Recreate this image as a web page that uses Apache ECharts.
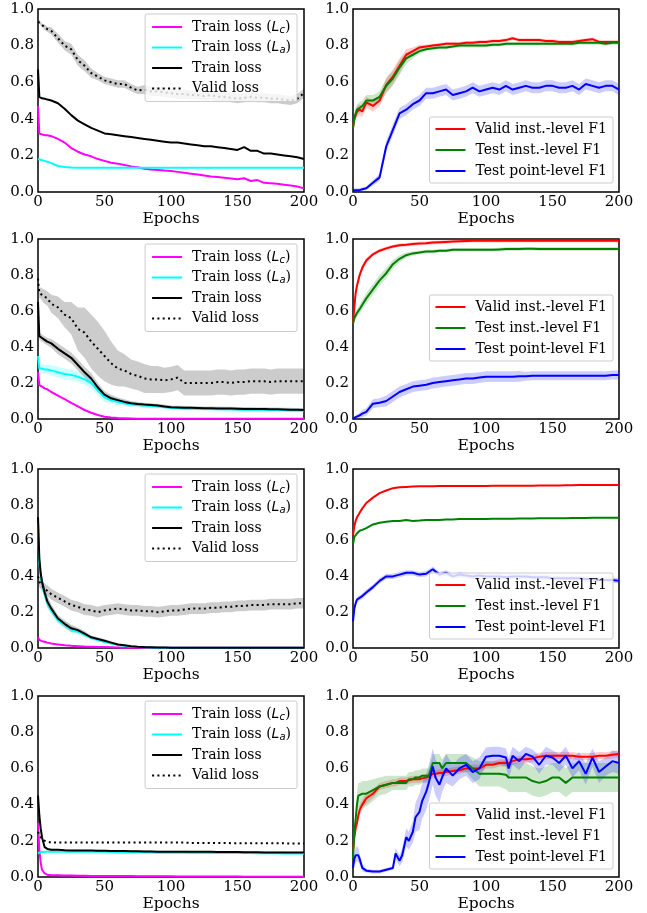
<!DOCTYPE html>
<html><head><meta charset="utf-8">
<script src="https://cdn.jsdelivr.net/npm/echarts@6/dist/echarts.min.js"></script>
<style>html,body{margin:0;padding:0;background:#fff}#c{width:647px;height:913px}</style>
</head><body><div id="c"></div>
<script>
// ---------- epochs (x values) ----------
const epochs = [0,1,2,3,5,7,10,15,20,25, 30,35,40,45,50,55,60,65,70,75, 80,85,90,95,100,105,110,115,120,125, 130,135,140,145,150,155,160,165,170,175, 180,185,190,195,200];
const epochsP8 = [0,1,2,3,4,5,7,10,15,20, 25,30,32,35,37,40,42,45,47,50, 52,55,57,60,62,65,67,70,75,80, 85,90,95,100,105,110,115,117,120,125, 130,135,140,145,150,155,160,165,170,175, 180,185,190,195,200];
const xTicks = [0,50,100,150,200];
const yTicks = [0,0.2,0.4,0.6,0.8,1.0];

// ---------- panel 1 (row 1, loss) ----------
const p1Lc = [0.47,0.32,0.32,0.315,0.31,0.31,0.305,0.29,0.27,0.24, 0.22,0.205,0.195,0.18,0.17,0.16,0.155,0.148,0.14,0.135, 0.127,0.123,0.12,0.117,0.115,0.11,0.105,0.1,0.095,0.09, 0.085,0.082,0.078,0.074,0.07,0.075,0.06,0.065,0.05,0.048, 0.045,0.04,0.035,0.03,0.02];
const p1La = [0.18,0.178,0.176,0.174,0.17,0.165,0.158,0.142,0.137,0.134, 0.133,0.133,0.133,0.133,0.133,0.133,0.133,0.133,0.133,0.133, 0.133,0.133,0.133,0.133,0.133,0.133,0.133,0.133,0.133,0.133, 0.133,0.133,0.133,0.133,0.133,0.133,0.133,0.133,0.133,0.133, 0.133,0.133,0.133,0.133,0.133];
const p1Train = [0.67,0.52,0.515,0.512,0.51,0.505,0.5,0.485,0.455,0.42, 0.39,0.37,0.35,0.335,0.32,0.315,0.31,0.305,0.3,0.295, 0.29,0.285,0.28,0.275,0.27,0.27,0.265,0.26,0.255,0.25, 0.25,0.245,0.24,0.235,0.23,0.245,0.225,0.225,0.21,0.21, 0.205,0.2,0.195,0.19,0.18];
const p1Valid = [0.93,0.93,0.92,0.91,0.9,0.89,0.88,0.84,0.8,0.78, 0.72,0.69,0.65,0.63,0.61,0.6,0.59,0.59,0.57,0.555, 0.56,0.55,0.55,0.545,0.54,0.535,0.535,0.53,0.53,0.525, 0.53,0.52,0.52,0.515,0.51,0.515,0.52,0.515,0.515,0.51, 0.51,0.505,0.5,0.51,0.54];
const p1ValidStd = [0.01,0.01,0.01,0.01,0.015,0.015,0.02,0.025,0.025,0.03, 0.03,0.03,0.025,0.02,0.02,0.02,0.02,0.02,0.02,0.02, 0.025,0.025,0.025,0.025,0.025,0.025,0.025,0.025,0.025,0.025, 0.025,0.025,0.025,0.025,0.025,0.025,0.025,0.025,0.025,0.025, 0.025,0.025,0.025,0.025,0.025];

// ---------- panel 2 (row 1, F1) ----------
const p2Valid = [0.35,0.4,0.42,0.44,0.45,0.44,0.49,0.47,0.5,0.585, 0.63,0.69,0.75,0.77,0.79,0.795,0.8,0.805,0.81,0.81, 0.81,0.815,0.815,0.82,0.82,0.825,0.825,0.83,0.84,0.83, 0.83,0.83,0.83,0.825,0.825,0.82,0.82,0.82,0.825,0.83, 0.835,0.82,0.82,0.82,0.82];
const p2ValidStd = [0.02,0.02,0.03,0.03,0.03,0.03,0.03,0.03,0.03,0.04, 0.04,0.04,0.03,0.02,0.015,0.01,0.01,0.01,0.01,0.01, 0.01,0.01,0.01,0.01,0.01,0.01,0.01,0.01,0.01,0.01, 0.01,0.01,0.01,0.01,0.01,0.01,0.01,0.01,0.01,0.01, 0.01,0.01,0.01,0.01,0.01];
const p2Test = [0.35,0.4,0.43,0.45,0.46,0.47,0.5,0.5,0.52,0.58, 0.62,0.68,0.73,0.75,0.77,0.78,0.785,0.79,0.79,0.795, 0.8,0.8,0.8,0.8,0.8,0.805,0.805,0.81,0.81,0.81, 0.81,0.81,0.81,0.81,0.81,0.81,0.81,0.81,0.815,0.815, 0.815,0.815,0.81,0.815,0.815];
const p2TestStd = [0.02,0.02,0.03,0.03,0.03,0.03,0.03,0.03,0.03,0.04, 0.04,0.04,0.03,0.02,0.015,0.01,0.01,0.01,0.01,0.01, 0.01,0.01,0.01,0.01,0.01,0.01,0.01,0.01,0.01,0.01, 0.01,0.01,0.01,0.01,0.01,0.01,0.01,0.01,0.01,0.01, 0.01,0.01,0.01,0.01,0.01];
const p2Point = [0.01,0.01,0.01,0.01,0.01,0.015,0.02,0.05,0.08,0.25, 0.34,0.43,0.45,0.48,0.5,0.54,0.54,0.55,0.56,0.53, 0.54,0.55,0.57,0.55,0.56,0.57,0.56,0.58,0.56,0.57, 0.58,0.57,0.57,0.58,0.58,0.57,0.57,0.58,0.56,0.59, 0.58,0.57,0.58,0.58,0.56];
const p2PointStd = [0.01,0.01,0.01,0.01,0.01,0.01,0.01,0.015,0.02,0.03, 0.03,0.03,0.03,0.03,0.03,0.03,0.03,0.03,0.03,0.03, 0.03,0.03,0.03,0.03,0.03,0.03,0.03,0.03,0.03,0.03, 0.03,0.03,0.03,0.03,0.03,0.03,0.03,0.03,0.03,0.03, 0.03,0.03,0.03,0.03,0.03];

// ---------- panel 3 (row 2, loss) ----------
const p3Lc = [0.26,0.19,0.185,0.18,0.17,0.165,0.15,0.13,0.11,0.09, 0.07,0.05,0.035,0.022,0.013,0.008,0.005,0.004,0.003,0.002, 0.002,0.002,0.002,0.002,0.002,0.002,0.002,0.002,0.002,0.002, 0.001,0.001,0.001,0.001,0.001,0.001,0.001,0.001,0.001,0.001, 0.001,0.001,0.001,0.001,0.001];
const p3La = [0.35,0.28,0.28,0.28,0.275,0.275,0.27,0.26,0.25,0.245, 0.235,0.22,0.2,0.16,0.12,0.105,0.095,0.088,0.082,0.078, 0.075,0.072,0.07,0.066,0.062,0.06,0.059,0.058,0.057,0.056, 0.056,0.055,0.054,0.054,0.053,0.052,0.052,0.051,0.051,0.05, 0.05,0.049,0.048,0.048,0.047];
const p3LaStd = [0.02,0.02,0.02,0.025,0.025,0.025,0.03,0.03,0.03,0.03, 0.03,0.03,0.03,0.03,0.025,0.02,0.02,0.015,0.015,0.012, 0.012,0.01,0.01,0.01,0.01,0.01,0.01,0.01,0.01,0.01, 0.01,0.01,0.01,0.01,0.01,0.01,0.01,0.01,0.01,0.01, 0.01,0.01,0.01,0.01,0.01];
const p3Train = [0.65,0.46,0.455,0.45,0.44,0.43,0.42,0.39,0.365,0.34, 0.3,0.26,0.225,0.175,0.135,0.115,0.105,0.095,0.088,0.083, 0.08,0.078,0.075,0.07,0.065,0.064,0.063,0.062,0.061,0.06, 0.06,0.059,0.058,0.058,0.057,0.056,0.056,0.055,0.055,0.054, 0.054,0.053,0.052,0.051,0.05];
const p3TrainStd = [0.02,0.02,0.02,0.02,0.02,0.02,0.025,0.03,0.03,0.03, 0.03,0.03,0.03,0.025,0.02,0.02,0.015,0.015,0.012,0.012, 0.01,0.01,0.01,0.01,0.01,0.01,0.01,0.01,0.01,0.01, 0.01,0.01,0.01,0.01,0.01,0.01,0.01,0.01,0.01,0.01, 0.01,0.01,0.01,0.01,0.01];
const p3Valid = [0.78,0.7,0.7,0.69,0.68,0.67,0.64,0.62,0.58,0.56, 0.5,0.48,0.43,0.39,0.35,0.31,0.28,0.27,0.25,0.24, 0.225,0.22,0.22,0.215,0.22,0.23,0.2,0.2,0.2,0.2, 0.2,0.205,0.205,0.2,0.205,0.205,0.21,0.21,0.21,0.205, 0.21,0.21,0.21,0.21,0.21];
const p3ValidStd = [0.03,0.03,0.03,0.035,0.04,0.04,0.05,0.06,0.07,0.09, 0.12,0.14,0.15,0.15,0.14,0.12,0.1,0.09,0.08,0.08, 0.08,0.075,0.075,0.07,0.07,0.07,0.07,0.07,0.07,0.07, 0.07,0.07,0.07,0.07,0.07,0.07,0.07,0.07,0.07,0.07, 0.07,0.07,0.07,0.07,0.07];

// ---------- panel 4 (row 2, F1) ----------
const p4Valid = [0.53,0.62,0.7,0.74,0.8,0.84,0.88,0.915,0.935,0.948, 0.958,0.965,0.968,0.972,0.975,0.977,0.98,0.982,0.984,0.986, 0.988,0.989,0.99,0.99,0.99,0.99,0.99,0.99,0.99,0.99, 0.99,0.99,0.99,0.99,0.99,0.99,0.99,0.99,0.99,0.99, 0.99,0.99,0.99,0.99,0.99];
const p4ValidStd = [0.01,0.02,0.02,0.02,0.02,0.02,0.015,0.01,0.01,0.01, 0.01,0.01,0.01,0.01,0.01,0.01,0.01,0.01,0.01,0.01, 0.01,0.01,0.01,0.01,0.01,0.01,0.01,0.01,0.01,0.01, 0.01,0.01,0.01,0.01,0.01,0.01,0.01,0.01,0.01,0.01, 0.01,0.01,0.01,0.01,0.01];
const p4Test = [0.53,0.56,0.575,0.59,0.61,0.635,0.67,0.72,0.77,0.81, 0.86,0.89,0.91,0.92,0.925,0.93,0.93,0.935,0.935,0.94, 0.94,0.94,0.94,0.94,0.94,0.94,0.942,0.944,0.945,0.945, 0.946,0.946,0.945,0.945,0.945,0.945,0.945,0.945,0.945,0.945, 0.945,0.945,0.945,0.945,0.945];
const p4TestStd = [0.01,0.02,0.02,0.02,0.025,0.025,0.03,0.03,0.03,0.03, 0.025,0.02,0.015,0.012,0.01,0.01,0.01,0.01,0.01,0.01, 0.01,0.01,0.01,0.01,0.01,0.01,0.01,0.01,0.01,0.01, 0.01,0.01,0.01,0.01,0.01,0.01,0.01,0.01,0.01,0.01, 0.01,0.01,0.01,0.01,0.01];
const p4Point = [0,0.005,0.01,0.015,0.02,0.03,0.04,0.085,0.09,0.1, 0.125,0.15,0.165,0.18,0.185,0.19,0.2,0.205,0.21,0.215, 0.22,0.225,0.225,0.23,0.235,0.235,0.235,0.235,0.235,0.237, 0.238,0.24,0.24,0.24,0.24,0.24,0.24,0.24,0.24,0.24, 0.24,0.24,0.24,0.245,0.245];
const p4PointStd = [0.01,0.01,0.01,0.01,0.015,0.02,0.02,0.025,0.025,0.03, 0.03,0.03,0.03,0.03,0.03,0.03,0.03,0.03,0.03,0.03, 0.03,0.03,0.03,0.03,0.03,0.03,0.03,0.03,0.03,0.03, 0.025,0.025,0.025,0.025,0.025,0.025,0.025,0.025,0.025,0.025, 0.025,0.025,0.025,0.025,0.025];

// ---------- panel 5 (row 3, loss) ----------
const p5Lc = [0.06,0.045,0.04,0.038,0.035,0.03,0.025,0.02,0.015,0.012, 0.01,0.008,0.007,0.006,0.005,0.004,0.003,0.002,0.002,0.001, 0.001,0.001,0.001,0.001,0.001,0.001,0.001,0.001,0.001,0.001, 0.001,0.001,0.001,0.001,0.001,0.001,0.001,0.001,0.001,0.001, 0.001,0.001,0.001,0.001,0.001];
const p5La = [0.7,0.48,0.4,0.36,0.3,0.25,0.21,0.155,0.13,0.105, 0.09,0.075,0.055,0.045,0.035,0.025,0.018,0.013,0.008,0.005, 0.004,0.003,0.002,0.002,0.002,0.001,0.001,0.001,0.001,0.001, 0.001,0.001,0.001,0.001,0.001,0.001,0.001,0.001,0.001,0.001, 0.001,0.001,0.001,0.001,0.001];
const p5LaStd = [0.04,0.04,0.04,0.035,0.03,0.03,0.025,0.02,0.02,0.02, 0.015,0.015,0.01,0.01,0.01,0.008,0.006,0.005,0.004,0.003, 0.002,0.002,0.002,0.002,0.002,0.002,0.002,0.002,0.002,0.002, 0.002,0.002,0.002,0.002,0.002,0.002,0.002,0.002,0.002,0.002, 0.002,0.002,0.002,0.002,0.002];
const p5Train = [0.73,0.5,0.42,0.37,0.31,0.26,0.22,0.165,0.135,0.11, 0.1,0.08,0.06,0.05,0.04,0.03,0.02,0.015,0.01,0.007, 0.005,0.004,0.003,0.003,0.002,0.002,0.002,0.002,0.002,0.002, 0.002,0.002,0.002,0.002,0.002,0.002,0.002,0.002,0.002,0.002, 0.002,0.002,0.002,0.002,0.002];
const p5Valid = [0.4,0.37,0.36,0.35,0.33,0.32,0.3,0.28,0.26,0.24, 0.23,0.215,0.21,0.2,0.21,0.215,0.22,0.215,0.21,0.21, 0.205,0.205,0.2,0.205,0.21,0.21,0.215,0.22,0.22,0.22, 0.225,0.225,0.23,0.23,0.235,0.235,0.24,0.24,0.24,0.245, 0.245,0.245,0.245,0.25,0.25];
const p5ValidStd = [0.03,0.03,0.03,0.03,0.03,0.03,0.03,0.03,0.03,0.03, 0.03,0.03,0.03,0.03,0.03,0.03,0.03,0.03,0.03,0.03, 0.03,0.03,0.03,0.03,0.03,0.03,0.03,0.03,0.03,0.03, 0.03,0.03,0.03,0.03,0.03,0.03,0.03,0.03,0.03,0.03, 0.03,0.03,0.03,0.03,0.03];

// ---------- panel 6 (row 3, F1) ----------
const p6Valid = [0.63,0.68,0.71,0.73,0.755,0.78,0.81,0.84,0.865,0.88, 0.893,0.898,0.9,0.902,0.903,0.903,0.904,0.905,0.905,0.905, 0.905,0.905,0.905,0.905,0.905,0.906,0.906,0.906,0.906,0.907, 0.907,0.907,0.908,0.908,0.908,0.908,0.909,0.909,0.91,0.91, 0.91,0.91,0.91,0.91,0.91];
const p6Test = [0.58,0.62,0.63,0.64,0.655,0.66,0.67,0.69,0.7,0.705, 0.71,0.71,0.715,0.71,0.712,0.715,0.715,0.715,0.718,0.718, 0.72,0.72,0.72,0.72,0.72,0.722,0.722,0.722,0.722,0.724, 0.724,0.724,0.725,0.725,0.725,0.725,0.725,0.726,0.726,0.726, 0.727,0.727,0.728,0.728,0.728];
const p6Point = [0.15,0.22,0.25,0.27,0.28,0.29,0.31,0.34,0.375,0.4, 0.4,0.41,0.42,0.42,0.41,0.415,0.44,0.41,0.42,0.4, 0.41,0.405,0.4,0.405,0.4,0.4,0.4,0.395,0.4,0.4, 0.4,0.395,0.395,0.395,0.39,0.39,0.39,0.39,0.39,0.385, 0.385,0.38,0.38,0.38,0.375];
const p6PointStd = [0.015,0.015,0.015,0.015,0.015,0.015,0.015,0.015,0.015,0.015, 0.015,0.015,0.015,0.015,0.015,0.015,0.015,0.015,0.015,0.015, 0.015,0.015,0.015,0.015,0.015,0.015,0.015,0.015,0.015,0.015, 0.015,0.015,0.015,0.015,0.015,0.015,0.015,0.015,0.015,0.015, 0.015,0.015,0.015,0.015,0.015];

// ---------- panel 7 (row 4, loss) ----------
const p7Lc = [0.3,0.15,0.08,0.04,0.02,0.013,0.01,0.009,0.008,0.008, 0.007,0.007,0.006,0.006,0.006,0.005,0.005,0.005,0.005,0.004, 0.004,0.004,0.004,0.004,0.004,0.003,0.003,0.003,0.003,0.003, 0.003,0.003,0.003,0.003,0.003,0.002,0.002,0.002,0.002,0.002, 0.002,0.002,0.002,0.002,0.002];
const p7La = [0.13,0.135,0.138,0.14,0.14,0.14,0.14,0.14,0.14,0.14, 0.14,0.14,0.14,0.14,0.14,0.138,0.137,0.136,0.135,0.135, 0.135,0.135,0.134,0.134,0.134,0.134,0.134,0.133,0.133,0.133, 0.133,0.133,0.132,0.132,0.132,0.132,0.132,0.131,0.131,0.131, 0.131,0.13,0.13,0.13,0.13];
const p7Train = [0.45,0.34,0.27,0.22,0.165,0.155,0.15,0.15,0.148,0.147, 0.147,0.146,0.146,0.145,0.145,0.144,0.144,0.143,0.142,0.142, 0.141,0.141,0.14,0.14,0.14,0.14,0.14,0.139,0.139,0.139, 0.139,0.138,0.138,0.138,0.138,0.137,0.137,0.137,0.136,0.136, 0.136,0.136,0.135,0.135,0.135];
const p7Valid = [0.25,0.23,0.22,0.21,0.2,0.195,0.19,0.19,0.19,0.19, 0.19,0.19,0.19,0.19,0.19,0.19,0.19,0.19,0.19,0.19, 0.19,0.19,0.19,0.19,0.19,0.19,0.19,0.188,0.188,0.188, 0.188,0.188,0.188,0.187,0.187,0.187,0.187,0.187,0.186,0.186, 0.186,0.186,0.185,0.185,0.185];
const p7SmallStd = [0.005,0.005,0.005,0.005,0.005,0.005,0.005,0.005,0.005,0.005, 0.005,0.005,0.005,0.005,0.005,0.005,0.005,0.005,0.005,0.005, 0.005,0.005,0.005,0.005,0.005,0.005,0.005,0.005,0.005,0.005, 0.005,0.005,0.005,0.005,0.005,0.005,0.005,0.005,0.005,0.005, 0.005,0.005,0.005,0.005,0.005];

// ---------- panel 8 (row 4, F1), on epochsP8 ----------
const p8Valid = [0.15,0.22,0.27,0.3,0.34,0.37,0.4,0.435,0.46,0.5, 0.51,0.52,0.52,0.53,0.53,0.53,0.535,0.54,0.54,0.54, 0.545,0.55,0.555,0.57,0.57,0.575,0.575,0.58,0.585,0.59, 0.6,0.6,0.6,0.62,0.62,0.63,0.63,0.63,0.64,0.65, 0.65,0.655,0.665,0.67,0.67,0.67,0.67,0.67,0.665,0.665, 0.665,0.67,0.67,0.675,0.68];
const p8ValidStd = [0.02,0.03,0.03,0.03,0.03,0.03,0.03,0.03,0.025,0.02, 0.02,0.02,0.02,0.02,0.02,0.02,0.02,0.02,0.02,0.02, 0.02,0.02,0.02,0.02,0.02,0.02,0.02,0.02,0.02,0.02, 0.02,0.02,0.02,0.02,0.02,0.02,0.02,0.02,0.02,0.02, 0.02,0.02,0.02,0.02,0.02,0.02,0.02,0.02,0.02,0.02, 0.02,0.02,0.02,0.02,0.02];
const p8Test = [0.1,0.25,0.32,0.4,0.45,0.45,0.46,0.46,0.48,0.5, 0.51,0.52,0.52,0.52,0.52,0.52,0.54,0.54,0.55,0.55, 0.56,0.56,0.56,0.63,0.63,0.63,0.6,0.63,0.63,0.63, 0.63,0.6,0.57,0.57,0.57,0.57,0.565,0.55,0.55,0.55, 0.55,0.53,0.52,0.53,0.55,0.55,0.52,0.55,0.55,0.55, 0.55,0.55,0.55,0.55,0.55];
const p8TestStd = [0.02,0.05,0.06,0.07,0.07,0.07,0.07,0.07,0.06,0.05, 0.05,0.04,0.04,0.04,0.04,0.04,0.04,0.04,0.04,0.04, 0.04,0.04,0.04,0.05,0.05,0.05,0.05,0.05,0.05,0.05, 0.05,0.06,0.07,0.07,0.07,0.07,0.08,0.08,0.08,0.08, 0.08,0.08,0.08,0.08,0.08,0.08,0.08,0.08,0.08,0.08, 0.08,0.08,0.08,0.08,0.08];
const p8Point = [0.05,0.1,0.12,0.13,0.12,0.1,0.05,0.035,0.03,0.03, 0.04,0.05,0.13,0.09,0.12,0.22,0.2,0.25,0.33,0.36, 0.42,0.47,0.52,0.61,0.55,0.51,0.55,0.6,0.56,0.6, 0.62,0.58,0.6,0.665,0.67,0.67,0.66,0.6,0.67,0.64, 0.68,0.665,0.62,0.67,0.66,0.63,0.67,0.6,0.64,0.57, 0.66,0.58,0.61,0.64,0.63];
const p8PointStd = [0.03,0.04,0.04,0.04,0.04,0.03,0.02,0.01,0.01,0.01, 0.01,0.01,0.03,0.03,0.04,0.05,0.05,0.06,0.08,0.1, 0.1,0.1,0.1,0.1,0.1,0.1,0.08,0.08,0.06,0.06, 0.06,0.06,0.06,0.05,0.05,0.05,0.05,0.06,0.05,0.05, 0.04,0.04,0.05,0.05,0.04,0.05,0.05,0.05,0.05,0.06, 0.05,0.06,0.05,0.06,0.06];

// ---------- names & colours ----------
const NAMES = {
  lc: 'Train loss (Lc)', la: 'Train loss (La)', train: 'Train loss', valid: 'Valid loss',
  vInst: 'Valid inst.-level F1', tInst: 'Test inst.-level F1', tPoint: 'Test point-level F1'
};
const COLORS = {
  lc: '#ff00ff', la: '#00ffff', train: '#000000', valid: '#000000',
  vInst: '#ff0000', tInst: '#008000', tPoint: '#0000ff'
};

const panels = [
  {ep: epochs, items: [['lc', p1Lc, null], ['la', p1La, null], ['train', p1Train, null], ['valid', p1Valid, p1ValidStd]]},
  {ep: epochs, items: [['vInst', p2Valid, p2ValidStd], ['tInst', p2Test, p2TestStd], ['tPoint', p2Point, p2PointStd]]},
  {ep: epochs, items: [['lc', p3Lc, null], ['la', p3La, p3LaStd], ['train', p3Train, p3TrainStd], ['valid', p3Valid, p3ValidStd]]},
  {ep: epochs, items: [['vInst', p4Valid, p4ValidStd], ['tInst', p4Test, p4TestStd], ['tPoint', p4Point, p4PointStd]]},
  {ep: epochs, items: [['lc', p5Lc, null], ['la', p5La, p5LaStd], ['train', p5Train, p5LaStd], ['valid', p5Valid, p5ValidStd]]},
  {ep: epochs, items: [['vInst', p6Valid, null], ['tInst', p6Test, null], ['tPoint', p6Point, p6PointStd]]},
  {ep: epochs, items: [['lc', p7Lc, p7SmallStd], ['la', p7La, p7SmallStd], ['train', p7Train, p7SmallStd], ['valid', p7Valid, null]]},
  {ep: epochsP8, items: [['vInst', p8Valid, p8ValidStd], ['tInst', p8Test, p8TestStd], ['tPoint', p8Point, p8PointStd]]}
];

// ---------- layout ----------
const SERIF = "'DejaVu Serif', 'Liberation Serif', serif";
const rowTop = [9, 239, 469, 696];
const rowH = [183, 180, 179, 181];
const colLeft = [38, 353];
const plotW = 266;
const leftLegendTop = [14, 244, 474, 701];
const rightLegendTop = [117, 295, 573, 803];

const grids = [], xAxes = [], yAxes = [], legends = [];
const bandSeries = [], lineSeries = [];

function hexToRgba(hex, a) {
  const n = parseInt(hex.slice(1), 16);
  return 'rgba(' + ((n >> 16) & 255) + ',' + ((n >> 8) & 255) + ',' + (n & 255) + ',' + a + ')';
}

const rich = {
  t: {fontFamily: SERIF, fontSize: 14, color: '#000', lineHeight: 16},
  i: {fontFamily: "'DejaVu Sans', sans-serif", fontStyle: 'italic', fontSize: 14, color: '#000', lineHeight: 16},
  s: {fontFamily: "'DejaVu Sans', sans-serif", fontStyle: 'italic', fontSize: 10, color: '#000', lineHeight: 9, verticalAlign: 'bottom'}
};
function legendFormatter(name) {
  if (name === NAMES.lc) return '{t|Train loss (}{i|L}{s|c}{t|)}';
  if (name === NAMES.la) return '{t|Train loss (}{i|L}{s|a}{t|)}';
  return '{t|' + name + '}';
}

function makeBand(g, ep, vals, std, fill) {
  return {
    type: 'custom', xAxisIndex: g, yAxisIndex: g, silent: true, clip: true, z: 1,
    data: [[ep[0], vals[0]]],
    renderItem: function (params, api) {
      const pts = [];
      for (let i = 0; i < ep.length; i++) pts.push(api.coord([ep[i], vals[i] + std[i]]));
      for (let i = ep.length - 1; i >= 0; i--) pts.push(api.coord([ep[i], vals[i] - std[i]]));
      return {type: 'polygon', shape: {points: pts}, style: {fill: fill, stroke: null}};
    }
  };
}

panels.forEach((p, g) => {
  const row = Math.floor(g / 2), col = g % 2;
  grids.push({left: colLeft[col], top: rowTop[row], width: plotW, height: rowH[row],
    show: true, borderColor: '#000', borderWidth: 1.5, backgroundColor: 'transparent', containLabel: false});
  xAxes.push({gridIndex: g, type: 'value', min: xTicks[0], max: xTicks[xTicks.length - 1], interval: xTicks[1] - xTicks[0],
    axisLine: {show: false}, axisTick: {show: false}, splitLine: {show: false},
    axisLabel: {fontFamily: SERIF, fontSize: 15, color: '#000', margin: 3},
    name: 'Epochs', nameLocation: 'middle', nameGap: 14,
    nameTextStyle: {fontFamily: SERIF, fontSize: 15.5, color: '#000', verticalAlign: 'top'}});
  yAxes.push({gridIndex: g, type: 'value', min: yTicks[0], max: yTicks[yTicks.length - 1], interval: yTicks[1] - yTicks[0],
    axisLine: {show: false}, axisTick: {show: false}, splitLine: {show: false},
    axisLabel: {fontFamily: SERIF, fontSize: 15, color: '#000', margin: 4, formatter: v => v.toFixed(1)}});

  p.items.forEach(([key, vals, std]) => {
    const color = COLORS[key];
    if (std) bandSeries.push(makeBand(g, p.ep, vals, std, hexToRgba(color, 0.2)));
    lineSeries.push({type: 'line', name: NAMES[key], xAxisIndex: g, yAxisIndex: g, symbol: 'none', silent: true,
      lineStyle: {color: color, width: 2, type: key === 'valid' ? [2, 3.3] : 'solid'},
      itemStyle: {color: color},
      data: p.ep.map((e, i) => [e, vals[i]]), z: 3});
  });

  const names = p.items.map(it => NAMES[it[0]]);
  const isLoss = col === 0;
  legends.push({
    orient: 'vertical', right: isLoss ? 350 : 34, top: isLoss ? leftLegendTop[row] : rightLegendTop[row],
    itemWidth: 30, itemHeight: 16, itemGap: isLoss ? 4.5 : 5,
    padding: isLoss ? [5, 6, 5, 6] : [4, 6, 4, 5],
    backgroundColor: 'rgba(255,255,255,0.8)', borderColor: '#cccccc', borderWidth: 1, borderRadius: 2,
    selectedMode: false, itemStyle: {opacity: 0},
    textStyle: {fontFamily: SERIF, fontSize: 14, color: '#000', lineHeight: 16, padding: [0, 0, 0, 5], rich: rich},
    formatter: legendFormatter, data: names, z: 10
  });
});

const chart = echarts.init(document.getElementById('c'), null, {renderer: 'canvas'});
chart.setOption({
  animation: false,
  backgroundColor: '#ffffff',
  grid: grids, xAxis: xAxes, yAxis: yAxes, legend: legends,
  series: bandSeries.concat(lineSeries)
});
</script>
</body></html>
